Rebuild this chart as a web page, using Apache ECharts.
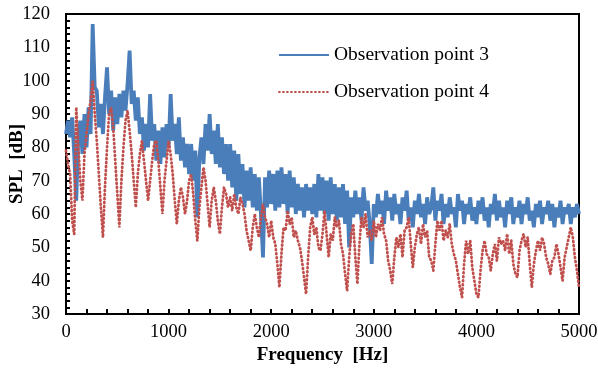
<!DOCTYPE html>
<html>
<head>
<meta charset="utf-8">
<script src="https://cdn.jsdelivr.net/npm/echarts@6/dist/echarts.min.js"></script>
<style>
  html, body { margin: 0; padding: 0; background: #fff; }
  #chart { width: 598px; height: 373px; }
</style>
</head>
<body>
<div id="chart"></div>
<script>
// Sound pressure level spectra at two observation points, sampled every 20 Hz from 0 to 5000 Hz
const freqStep = 20;

const point3 = [
  84, 88, 83, 89, 78, 64, 84, 88, 78, 90, 80, 92, 84, 117, 98, 97, 86, 93, 84, 95,
  104, 90, 97, 85, 95, 87, 96, 89, 97, 91, 99, 109, 93, 97, 88, 95, 84, 89, 79, 87,
  80, 96, 82, 87, 76, 85, 75, 86, 77, 87, 80, 96, 82, 87, 78, 89, 76, 83, 74, 81,
  72, 81, 70, 79, 59, 77, 83, 75, 87, 79, 90, 78, 85, 75, 87, 74, 83, 72, 81, 70,
  81, 68, 79, 64, 78, 66, 75, 62, 73, 64, 74, 62, 72, 61, 71, 60, 47, 71, 62, 73,
  63, 72, 61, 73, 62, 74, 63, 72, 60, 73, 62, 71, 60, 69, 61, 68, 59, 69, 61, 68,
  60, 69, 59, 72, 61, 71, 60, 70, 58, 71, 60, 69, 58, 68, 59, 69, 57, 67, 50, 65,
  59, 67, 60, 65, 58, 68, 61, 64, 57, 45, 63, 59, 66, 60, 64, 57, 67, 61, 65, 58,
  66, 60, 63, 57, 65, 61, 67, 58, 62, 56, 64, 60, 66, 59, 63, 57, 65, 60, 62, 68,
  58, 64, 61, 66, 57, 63, 59, 65, 60, 62, 56, 66, 61, 64, 57, 63, 60, 65, 58, 62,
  57, 64, 60, 65, 58, 62, 56, 63, 60, 66, 58, 64, 59, 62, 56, 64, 60, 65, 57, 62,
  59, 64, 57, 63, 60, 65, 58, 61, 56, 63, 59, 64, 57, 62, 60, 64, 58, 63, 56, 62,
  59, 64, 57, 62, 60, 63, 57, 62, 59, 63, 60
];

const point4 = [
  79, 75, 72, 58, 54, 92, 80, 70, 64, 78, 84, 90, 94, 100, 90, 82, 72, 62, 53, 68,
  80, 90, 92, 86, 76, 66, 56, 70, 80, 88, 91, 85, 78, 70, 62, 72, 78, 82, 76, 70,
  64, 70, 76, 81, 82, 76, 68, 60, 70, 76, 82, 78, 72, 64, 57, 64, 68, 65, 60, 64,
  70, 72, 66, 58, 52, 62, 68, 74, 70, 63, 56, 64, 68, 64, 58, 54, 62, 68, 66, 62,
  65, 61, 66, 62, 60, 65, 63, 60, 55, 52, 49, 56, 60, 56, 53, 59, 63, 59, 57, 53,
  58, 53, 51, 45, 38, 48, 56, 55, 61, 57, 59, 53, 55, 52, 50, 46, 41, 36, 47, 56,
  59, 54, 56, 50, 49, 54, 61, 54, 47, 54, 52, 59, 56, 58, 51, 48, 42, 37, 47, 54,
  57, 47, 39, 51, 59, 56, 60, 53, 55, 52, 58, 53, 57, 55, 59, 54, 52, 46, 43, 39,
  47, 53, 50, 54, 47, 55, 56, 59, 51, 44, 50, 54, 56, 51, 57, 53, 55, 47, 46, 43,
  51, 58, 55, 58, 52, 55, 53, 57, 51, 48, 46, 42, 38, 35, 45, 52, 48, 52, 44, 40,
  36, 35, 43, 49, 52, 48, 47, 43, 48, 51, 46, 53, 51, 52, 49, 54, 48, 52, 45, 42,
  41, 49, 52, 54, 50, 53, 45, 38, 45, 49, 52, 49, 53, 51, 47, 45, 42, 46, 47, 51,
  48, 44, 40, 47, 50, 53, 56, 53, 47, 43, 38
];

const seriesNames = ['Observation point 3', 'Observation point 4'];
const xTicks = [0, 1000, 2000, 3000, 4000, 5000];
const yTicks = [30, 40, 50, 60, 70, 80, 90, 100, 110, 120];

const toPairs = vals => vals.map((v, i) => [i * freqStep, v]);

const serif = '"Liberation Serif", "Times New Roman", serif';
const blue = '#4a7ebb';
const red = '#c0504d';
const chart = echarts.init(document.getElementById('chart'), null, { renderer: 'canvas' });

chart.setOption({
  animation: false,
  backgroundColor: '#ffffff',
  grid: {
    left: 66, right: 19, top: 14, bottom: 59,
    containLabel: false, outerBoundsMode: 'none',
    show: true, borderColor: '#000', borderWidth: 2, backgroundColor: 'transparent'
  },
  legend: {
    orient: 'vertical',
    left: 273, top: 40,
    itemWidth: 50, itemHeight: 14, itemGap: 17,
    itemStyle: { opacity: 0 },
    textStyle: { fontFamily: serif, fontSize: 19.5, color: '#000' },
    data: seriesNames
  },
  xAxis: {
    type: 'value',
    min: xTicks[0], max: xTicks[xTicks.length - 1], interval: 1000,
    name: 'Frequency  [Hz]', nameLocation: 'middle', nameGap: 32, nameMoveOverlap: false,
    nameTextStyle: { fontFamily: serif, fontSize: 19, fontWeight: 'bold', color: '#000' },
    axisLine: { lineStyle: { color: '#000', width: 2 } },
    axisTick: { inside: true, length: 5, lineStyle: { color: '#000', width: 2 } },
    minorTick: { show: true, splitNumber: 5, length: 5, lineStyle: { color: '#000', width: 2 } },
    splitLine: { show: false },
    axisLabel: { fontFamily: serif, fontSize: 18.5, color: '#000', margin: 9, formatter: v => String(v) }
  },
  yAxis: {
    type: 'value',
    min: yTicks[0], max: yTicks[yTicks.length - 1], interval: 10,
    name: 'SPL  [dB]', nameLocation: 'middle', nameGap: 39, nameRotate: 90, nameMoveOverlap: false,
    nameTextStyle: { fontFamily: serif, fontSize: 19, fontWeight: 'bold', color: '#000' },
    axisLine: { show: true, lineStyle: { color: '#000', width: 2 } },
    axisTick: { show: true, inside: true, length: 4, lineStyle: { color: '#000', width: 2 } },
    minorTick: { show: true, splitNumber: 5, length: 4, lineStyle: { color: '#000', width: 2 } },
    splitLine: { show: false },
    axisLabel: { fontFamily: serif, fontSize: 18.5, color: '#000', margin: 16, formatter: v => String(v) }
  },
  series: [
    {
      name: seriesNames[0], type: 'line', data: toPairs(point3),
      symbol: 'none', z: 2,
      lineStyle: { color: blue, width: 3.8 },
      itemStyle: { color: blue }
    },
    {
      name: seriesNames[1], type: 'line', data: toPairs(point4),
      symbol: 'none', z: 3,
      lineStyle: { color: red, width: 2.8, type: [0.8, 3.2], cap: 'round' },
      itemStyle: { color: red }
    }
  ]
});
</script>
</body>
</html>
